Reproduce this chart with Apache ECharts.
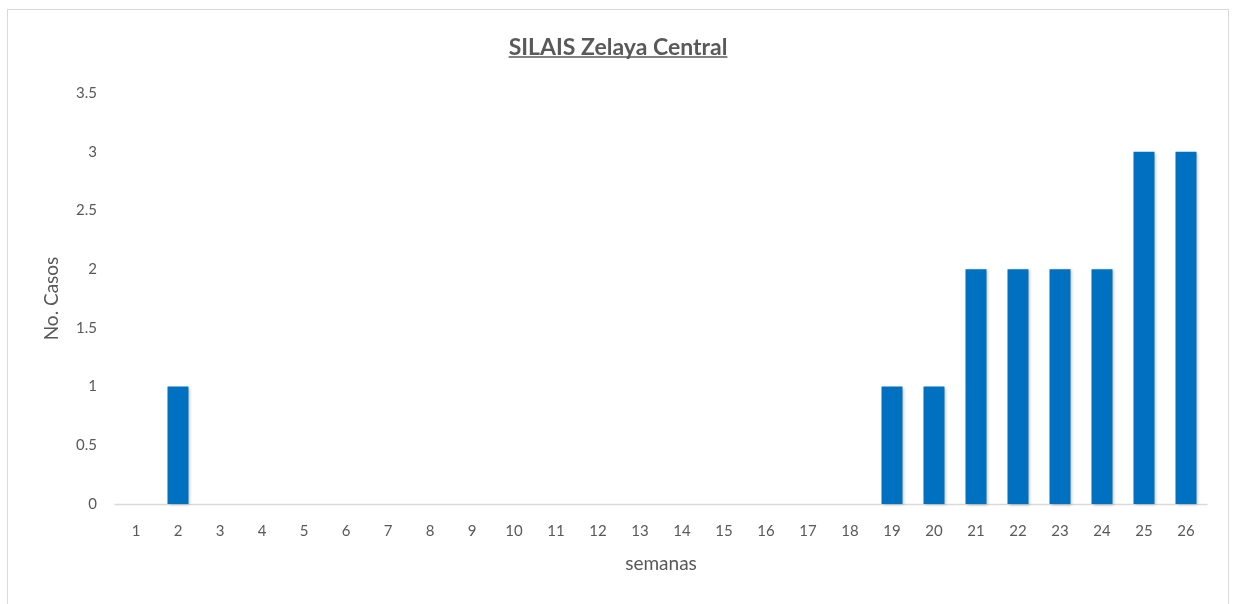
<!DOCTYPE html>
<html>
<head>
<meta charset="utf-8">
<script src="https://cdn.jsdelivr.net/npm/echarts@6/dist/echarts.min.js"></script>
<style>
  html, body { margin: 0; padding: 0; background: #fff; }
  #chart { width: 1236px; height: 604px; }
  #frame { position: absolute; left: 7px; top: 9px; width: 1222px; height: 620px;
           border: 1px solid #d9d9d9; box-sizing: border-box; pointer-events: none; }
</style>
</head>
<body>
<div id="chart"></div>
<div id="frame"></div>
<script>
const weeks = ['1','2','3','4','5','6','7','8','9','10','11','12','13','14','15','16','17','18','19','20','21','22','23','24','25','26'];
const cases = [0,1,0,0,0,0,0,0,0,0,0,0,0,0,0,0,0,0,1,1,2,2,2,2,3,3];

const titleText = 'SILAIS Zelaya Central';
const fontFam = 'Lato, "Open Sans", sans-serif';
const titleSize = 23;

// measure title so an underline can be drawn beneath it
const ctx = document.createElement('canvas').getContext('2d');
ctx.font = 'bold ' + titleSize + 'px ' + fontFam;
const titleW = ctx.measureText(titleText).width;

const chart = echarts.init(document.getElementById('chart'));
chart.setOption({
  animation: false,
  title: {
    text: titleText,
    left: 'center',
    top: 31,
    textStyle: { fontFamily: fontFam, fontSize: titleSize, fontWeight: 'bold', color: '#595959' }
  },
  graphic: [{
    type: 'line',
    shape: { x1: 618 - titleW / 2, y1: 57, x2: 618 + titleW / 2, y2: 57 },
    style: { stroke: '#595959', lineWidth: 1.5 }
  }],
  grid: { left: 115, right: 29, top: 93, bottom: 100 },
  xAxis: {
    type: 'category',
    data: weeks,
    name: 'semanas',
    nameLocation: 'middle',
    nameGap: 50,
    nameTextStyle: { fontFamily: fontFam, fontSize: 19, color: '#595959' },
    axisLine: { lineStyle: { color: '#d9d9d9', width: 1.3 } },
    axisTick: { show: false },
    axisLabel: { fontFamily: fontFam, fontSize: 15, color: '#595959', margin: 20 }
  },
  yAxis: {
    type: 'value',
    min: 0,
    max: 3.5,
    interval: 0.5,
    name: 'No. Casos',
    nameLocation: 'middle',
    nameGap: 54,
    nameTextStyle: { fontFamily: fontFam, fontSize: 19, color: '#595959' },
    axisLine: { show: false },
    axisTick: { show: false },
    splitLine: { show: false },
    axisLabel: { fontFamily: fontFam, fontSize: 15, color: '#595959', margin: 18 }
  },
  series: [{
    type: 'bar',
    data: cases,
    barWidth: '50%',
    itemStyle: {
      color: '#0070c0',
      shadowColor: 'rgba(0,0,0,0.25)',
      shadowBlur: 3,
      shadowOffsetX: 1,
      shadowOffsetY: 1
    }
  }]
});
</script>
</body>
</html>
